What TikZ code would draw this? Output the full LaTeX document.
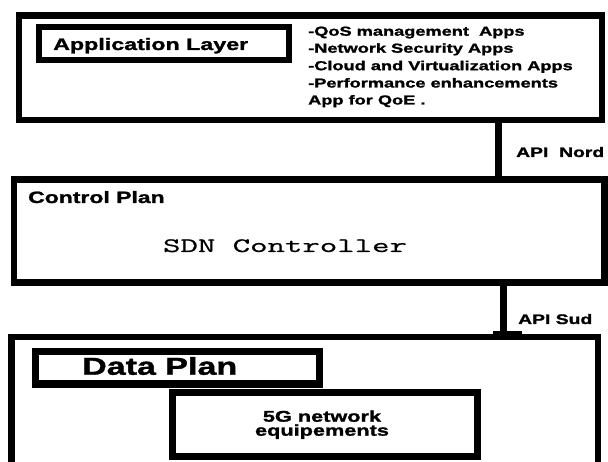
\documentclass[tikz,border=0pt]{standalone}
\usepackage{fontspec}
\setmainfont{Liberation Sans}[FakeStretch=1.4, BoldFeatures={FakeBold=1.5}]
\newfontfamily\sdnmono{Latin Modern Mono}[FakeStretch=1.65, FakeBold=0.8]

\begin{document}
\begin{tikzpicture}[x=1pt,y=-1pt,
  frame/.style={draw=black, line width=6.5pt, rectangle, inner sep=0pt, fill=white},
  link/.style={draw=black, line width=7pt},
  txt/.style={inner sep=0pt, anchor=base west},
  appline/.style={txt, font=\bfseries\fontsize{13}{17}\selectfont},
  apilabel/.style={txt, font=\bfseries\fontsize{13.8}{16}\selectfont}]
\useasboundingbox[fill=white] (0,0) rectangle (608,462);
\clip (0,0) rectangle (608,462);

% Application layer
\node[frame, minimum width=583pt, minimum height=104.5pt] (app) at (310.5,67.75) {};
\node[frame, line width=6pt, minimum width=250pt, minimum height=33pt] (appbox) at (164,43.5) {};
\node[txt, font=\bfseries\fontsize{16.6}{20}\selectfont] (apptitle) at (53,50) {Application Layer};
\node[appline] (l1) at (308,35.7) {-QoS management\ \ Apps};
\node[appline] (l2) at (308,52.7) {-Network Security Apps};
\node[appline] (l3) at (308,70.2) {-Cloud and Virtualization Apps};
\node[appline] (l4) at (308,87.5) {-Performance enhancements};
\node[appline] (l5) at (308,104.5) {App for QoE .};

% Control plan
\node[frame, minimum width=590.5pt, minimum height=103pt] (ctrl) at (309.25,231) {};
\node[txt, font=\bfseries\fontsize{16.4}{20}\selectfont] (ctrltitle) at (28,203) {Control Plan};
\node[inner sep=0pt, anchor=base, font=\sdnmono\fontsize{20.5}{24}\selectfont] (sdn) at (285,252) {SDN Controller};

% Data plan
\node[frame, minimum width=586.5pt, minimum height=150pt] (data) at (304.75,412) {};
\node[frame, line width=7pt, minimum width=284pt, minimum height=32pt] (databox) at (177.5,368) {};
\node[txt, font=\bfseries\fontsize{24.3}{28}\selectfont] (datatitle) at (82,374.7) {Data Plan};
\node[frame, line width=7pt, minimum width=305pt, minimum height=64pt] (eq) at (325,424.5) {};
\node[inner sep=0pt, align=center, font=\bfseries\fontsize{15.5}{14}\selectfont] (eqtxt) at (322,424.7) {5G network\\equipements};

% Interfaces between the planes
\coordinate (nx) at (498.5,0);
\coordinate (sx) at (503.5,0);
\draw[link] (app.south -| nx) -- (ctrl.north -| nx);
\draw[link] (ctrl.south -| sx) -- (data.north -| sx);
\coordinate (foot) at (data.north -| sx);
\fill[black] ([xshift=-10.5pt,yshift=-4pt]foot) rectangle ([xshift=18.5pt,yshift=3pt]foot);
\node[apilabel] (apinord) at (516,157) {API\ \ Nord};
\node[apilabel] (apisud) at (518,324) {API Sud};
\end{tikzpicture}
\end{document}
